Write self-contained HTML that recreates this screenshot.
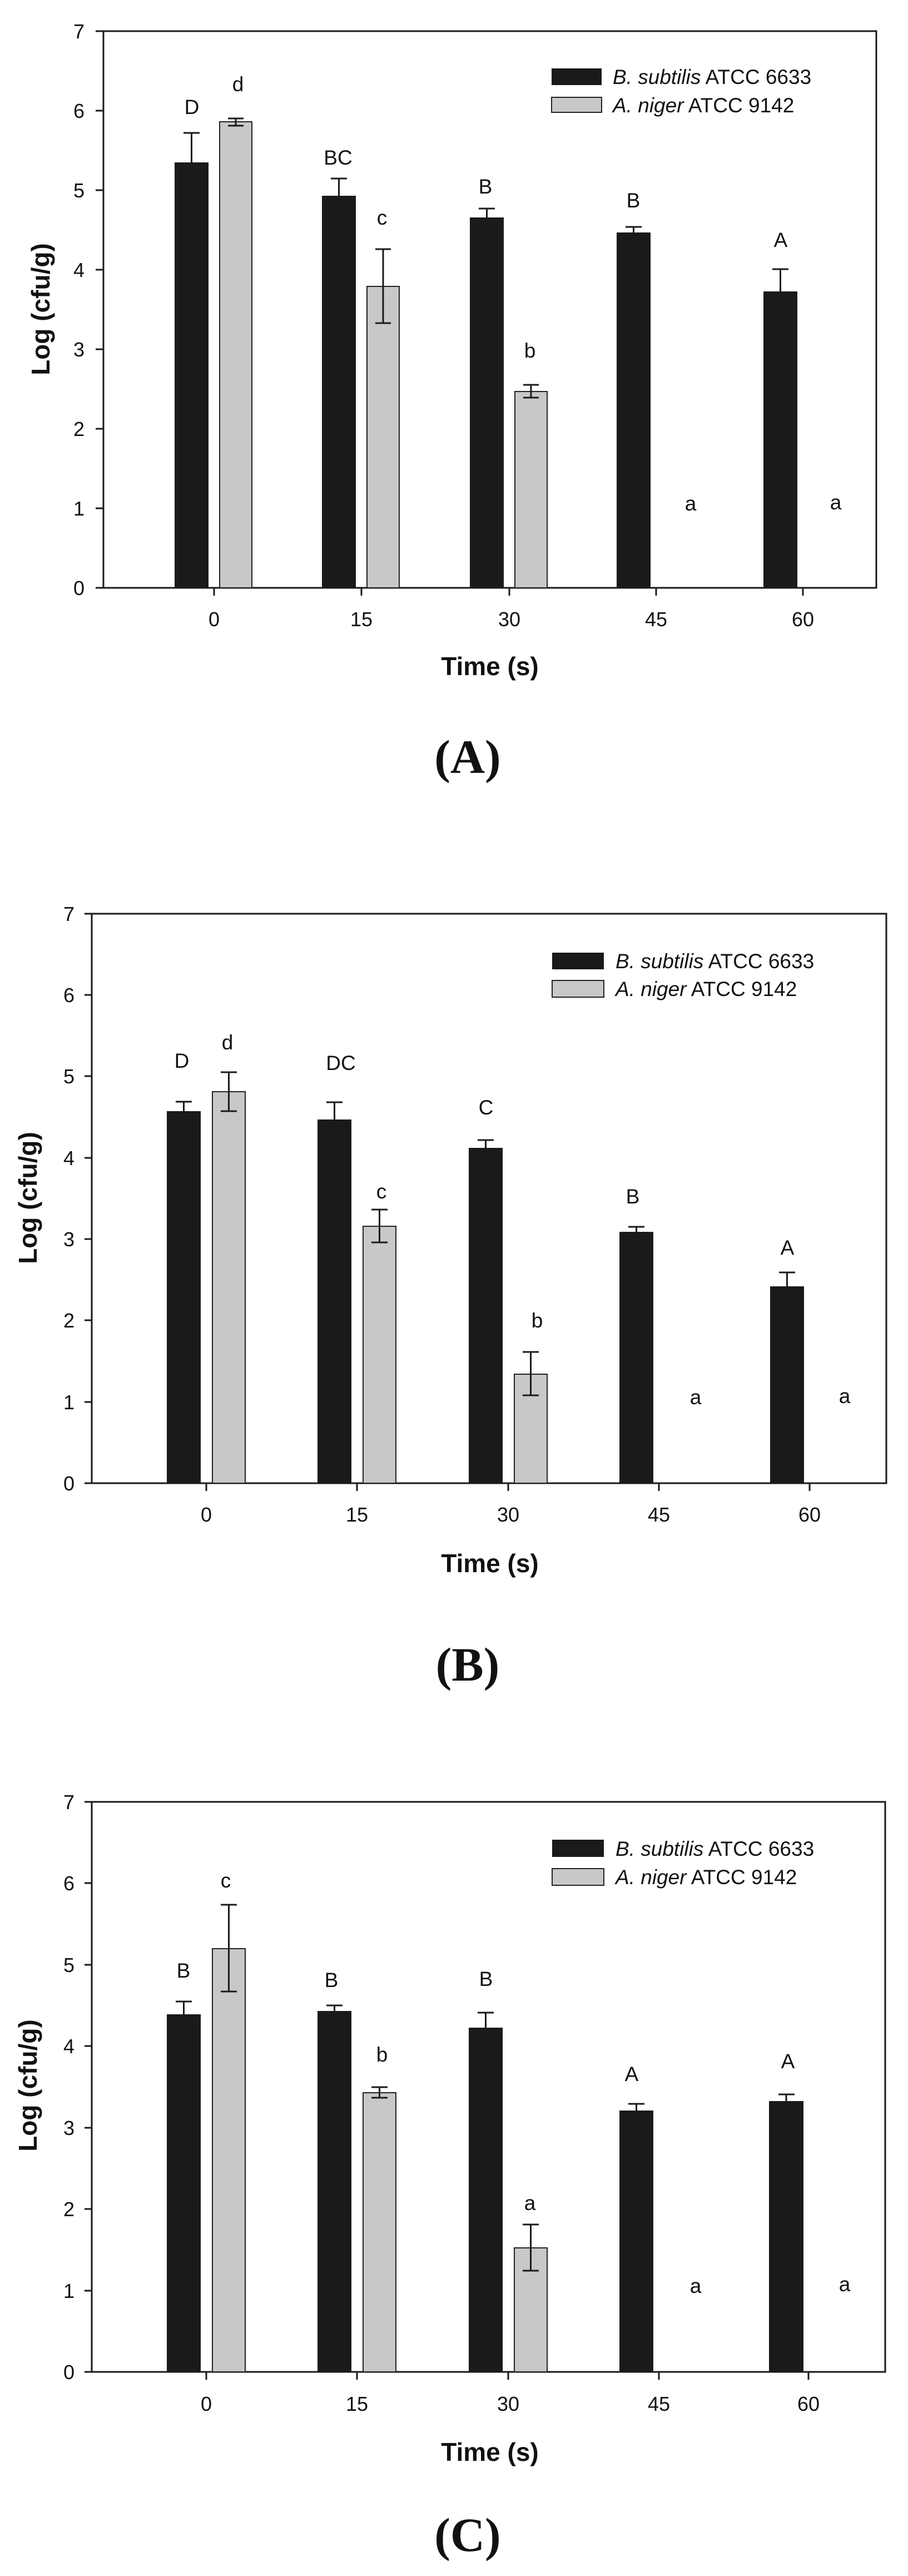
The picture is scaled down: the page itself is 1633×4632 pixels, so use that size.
<!DOCTYPE html>
<html><head><meta charset="utf-8"><style>
html,body{margin:0;padding:0;background:#fff;}
svg{display:block;}
text{font-family:"Liberation Sans",Arial,sans-serif;fill:#111;}
.t{font-size:36px;}
.l{font-size:37px;}
.ti{font-size:46px;font-weight:bold;}
.cap{font-family:"Liberation Serif","Times New Roman",serif;font-size:86px;font-weight:bold;}
.ax{stroke:#1a1a1a;stroke-width:3;fill:none;}
.bk{fill:#1a1a1a;}
.gr{fill:#c8c8c8;stroke:#222;stroke-width:2;}
.eb{stroke:#1a1a1a;stroke-width:3;fill:none;}
</style></head><body>
<svg width="1633" height="4632" viewBox="0 0 1633 4632" xmlns="http://www.w3.org/2000/svg">
<rect width="1633" height="4632" fill="#fff"/>

<!-- ================= PANEL A ================= -->
<g>
<rect class="ax" x="186" y="56" width="1390" height="1001"/>
<line class="ax" x1="172" y1="1057" x2="186" y2="1057"/>
<g class="ax">
<line x1="172" y1="56" x2="186" y2="56"/><line x1="172" y1="199" x2="186" y2="199"/><line x1="172" y1="342" x2="186" y2="342"/><line x1="172" y1="485" x2="186" y2="485"/><line x1="172" y1="628" x2="186" y2="628"/><line x1="172" y1="771" x2="186" y2="771"/><line x1="172" y1="914" x2="186" y2="914"/>
<line x1="385" y1="1057" x2="385" y2="1071"/><line x1="650" y1="1057" x2="650" y2="1071"/><line x1="916" y1="1057" x2="916" y2="1071"/><line x1="1180" y1="1057" x2="1180" y2="1071"/><line x1="1444" y1="1057" x2="1444" y2="1071"/>
</g>
<g class="t" text-anchor="end">
<text x="152" y="1070">0</text><text x="152" y="927">1</text><text x="152" y="784">2</text><text x="152" y="641">3</text><text x="152" y="498">4</text><text x="152" y="355">5</text><text x="152" y="212">6</text><text x="152" y="69">7</text>
</g>
<g class="t" text-anchor="middle">
<text x="385" y="1126">0</text><text x="650" y="1126">15</text><text x="916" y="1126">30</text><text x="1180" y="1126">45</text><text x="1444" y="1126">60</text>
</g>
<text class="ti" x="881" y="1214" text-anchor="middle">Time (s)</text>
<text class="ti" transform="translate(89,556) rotate(-90)" text-anchor="middle">Log (cfu/g)</text>
<!-- bars -->
<rect class="bk" x="314" y="292" width="61" height="765"/>
<rect class="bk" x="579" y="352" width="61" height="705"/>
<rect class="bk" x="845" y="391" width="61" height="666"/>
<rect class="bk" x="1109" y="418" width="61" height="639"/>
<rect class="bk" x="1373" y="524" width="61" height="533"/>
<rect class="gr" x="395" y="219" width="58" height="838"/>
<rect class="gr" x="660" y="515" width="58" height="542"/>
<rect class="gr" x="926" y="704" width="58" height="353"/>
<!-- error bars -->
<g class="eb">
<path d="M344.5 292V239M330 239H359"/>
<path d="M609.5 352V321M595 321H624"/>
<path d="M875.5 391V375M861 375H890"/>
<path d="M1139.5 418V408M1125 408H1154"/>
<path d="M1403.5 524V484M1389 484H1418"/>
<path d="M424 226V213M410 226H438M410 213H438"/>
<path d="M689 581V448M675 581H703M675 448H703"/>
<path d="M955 715V692M941 715H969M941 692H969"/>
</g>
<g class="l" text-anchor="middle">
<text x="345" y="205">D</text><text x="428" y="164">d</text><text x="608" y="296">BC</text><text x="687" y="404">c</text><text x="873" y="348">B</text><text x="953" y="643">b</text><text x="1139" y="373">B</text><text x="1242" y="918">a</text><text x="1404" y="444">A</text><text x="1503" y="916">a</text>
</g>
<rect class="bk" x="992" y="123" width="90" height="30"/>
<rect class="gr" x="992" y="175" width="90" height="27"/>
<text class="l" x="1102" y="151"><tspan font-style="italic">B. subtilis</tspan> ATCC 6633</text>
<text class="l" x="1102" y="202"><tspan font-style="italic">A. niger</tspan> ATCC 9142</text>
<text class="cap" x="841" y="1390" text-anchor="middle">(A)</text>
</g>

<!-- ================= PANEL B ================= -->
<g>
<rect class="ax" x="165" y="1643" width="1429" height="1024"/>
<g class="ax">
<line x1="152" y1="2667" x2="165" y2="2667"/><line x1="152" y1="2521" x2="165" y2="2521"/><line x1="152" y1="2374" x2="165" y2="2374"/><line x1="152" y1="2228" x2="165" y2="2228"/><line x1="152" y1="2082" x2="165" y2="2082"/><line x1="152" y1="1935" x2="165" y2="1935"/><line x1="152" y1="1789" x2="165" y2="1789"/><line x1="152" y1="1643" x2="165" y2="1643"/>
<line x1="371" y1="2667" x2="371" y2="2681"/><line x1="642" y1="2667" x2="642" y2="2681"/><line x1="914" y1="2667" x2="914" y2="2681"/><line x1="1185" y1="2667" x2="1185" y2="2681"/><line x1="1456" y1="2667" x2="1456" y2="2681"/>
</g>
<g class="t" text-anchor="end">
<text x="134" y="2680">0</text><text x="134" y="2534">1</text><text x="134" y="2387">2</text><text x="134" y="2241">3</text><text x="134" y="2095">4</text><text x="134" y="1948">5</text><text x="134" y="1802">6</text><text x="134" y="1656">7</text>
</g>
<g class="t" text-anchor="middle">
<text x="371" y="2736">0</text><text x="642" y="2736">15</text><text x="914" y="2736">30</text><text x="1185" y="2736">45</text><text x="1456" y="2736">60</text>
</g>
<text class="ti" x="881" y="2827" text-anchor="middle">Time (s)</text>
<text class="ti" transform="translate(66,2154) rotate(-90)" text-anchor="middle">Log (cfu/g)</text>
<rect class="bk" x="300" y="1998" width="61" height="669"/>
<rect class="bk" x="571" y="2013" width="61" height="654"/>
<rect class="bk" x="843" y="2064" width="61" height="603"/>
<rect class="bk" x="1114" y="2215" width="61" height="452"/>
<rect class="bk" x="1385" y="2313" width="61" height="354"/>
<rect class="gr" x="382" y="1963" width="59" height="704"/>
<rect class="gr" x="653" y="2205" width="59" height="462"/>
<rect class="gr" x="925" y="2471" width="59" height="196"/>
<g class="eb">
<path d="M330.5 1998V1981M316 1981H345"/>
<path d="M601.5 2013V1982M587 1982H616"/>
<path d="M873.5 2064V2050M859 2050H888"/>
<path d="M1144.5 2215V2206M1130 2206H1159"/>
<path d="M1415.5 2313V2288M1401 2288H1430"/>
<path d="M411.5 1998V1928M397 1998H426M397 1928H426"/>
<path d="M682.5 2234V2175M668 2234H697M668 2175H697"/>
<path d="M954.5 2509V2431M940 2509H969M940 2431H969"/>
</g>
<g class="l" text-anchor="middle">
<text x="327" y="1920">D</text><text x="409" y="1887">d</text><text x="613" y="1924">DC</text><text x="686" y="2155">c</text><text x="874" y="2004">C</text><text x="966" y="2387">b</text><text x="1138" y="2164">B</text><text x="1251" y="2525">a</text><text x="1416" y="2256">A</text><text x="1519" y="2523">a</text>
</g>
<rect class="bk" x="993" y="1713" width="93" height="30"/>
<rect class="gr" x="993" y="1763" width="93" height="30"/>
<text class="l" x="1107" y="1741"><tspan font-style="italic">B. subtilis</tspan> ATCC 6633</text>
<text class="l" x="1107" y="1791"><tspan font-style="italic">A. niger</tspan> ATCC 9142</text>
<text class="cap" x="841" y="3022" text-anchor="middle">(B)</text>
</g>

<!-- ================= PANEL C ================= -->
<g>
<rect class="ax" x="165" y="3240" width="1427" height="1025"/>
<g class="ax">
<line x1="152" y1="4265" x2="165" y2="4265"/><line x1="152" y1="4119" x2="165" y2="4119"/><line x1="152" y1="3972" x2="165" y2="3972"/><line x1="152" y1="3826" x2="165" y2="3826"/><line x1="152" y1="3679" x2="165" y2="3679"/><line x1="152" y1="3533" x2="165" y2="3533"/><line x1="152" y1="3386" x2="165" y2="3386"/><line x1="152" y1="3240" x2="165" y2="3240"/>
<line x1="371" y1="4265" x2="371" y2="4279"/><line x1="642" y1="4265" x2="642" y2="4279"/><line x1="914" y1="4265" x2="914" y2="4279"/><line x1="1185" y1="4265" x2="1185" y2="4279"/><line x1="1454" y1="4265" x2="1454" y2="4279"/>
</g>
<g class="t" text-anchor="end">
<text x="134" y="4278">0</text><text x="134" y="4132">1</text><text x="134" y="3985">2</text><text x="134" y="3839">3</text><text x="134" y="3692">4</text><text x="134" y="3546">5</text><text x="134" y="3399">6</text><text x="134" y="3253">7</text>
</g>
<g class="t" text-anchor="middle">
<text x="371" y="4335">0</text><text x="642" y="4335">15</text><text x="914" y="4335">30</text><text x="1185" y="4335">45</text><text x="1454" y="4335">60</text>
</g>
<text class="ti" x="881" y="4425" text-anchor="middle">Time (s)</text>
<text class="ti" transform="translate(66,3750) rotate(-90)" text-anchor="middle">Log (cfu/g)</text>
<rect class="bk" x="300" y="3622" width="61" height="643"/>
<rect class="bk" x="571" y="3616" width="61" height="649"/>
<rect class="bk" x="843" y="3646" width="61" height="619"/>
<rect class="bk" x="1114" y="3795" width="61" height="470"/>
<rect class="bk" x="1383" y="3778" width="62" height="487"/>
<rect class="gr" x="382" y="3504" width="59" height="761"/>
<rect class="gr" x="653" y="3763" width="59" height="502"/>
<rect class="gr" x="925" y="4042" width="59" height="223"/>
<g class="eb">
<path d="M330.5 3622V3599M316 3599H345"/>
<path d="M601.5 3616V3606M587 3606H616"/>
<path d="M873.5 3646V3619M859 3619H888"/>
<path d="M1144.5 3795V3783M1130 3783H1159"/>
<path d="M1414 3778V3766M1400 3766H1429"/>
<path d="M411.5 3581V3425M397 3581H426M397 3425H426"/>
<path d="M682.5 3772V3753M668 3772H697M668 3753H697"/>
<path d="M954.5 4083V4000M940 4083H969M940 4000H969"/>
</g>
<g class="l" text-anchor="middle">
<text x="330" y="3556">B</text><text x="406" y="3394">c</text><text x="596" y="3573">B</text><text x="687" y="3707">b</text><text x="874" y="3571">B</text><text x="953" y="3974">a</text><text x="1136" y="3742">A</text><text x="1251" y="4123">a</text><text x="1417" y="3719">A</text><text x="1519" y="4120">a</text>
</g>
<rect class="bk" x="993" y="3308" width="93" height="31"/>
<rect class="gr" x="993" y="3360" width="93" height="30"/>
<text class="l" x="1107" y="3337"><tspan font-style="italic">B. subtilis</tspan> ATCC 6633</text>
<text class="l" x="1107" y="3388"><tspan font-style="italic">A. niger</tspan> ATCC 9142</text>
<text class="cap" x="841" y="4587" text-anchor="middle">(C)</text>
</g>
</svg>
</body></html>
